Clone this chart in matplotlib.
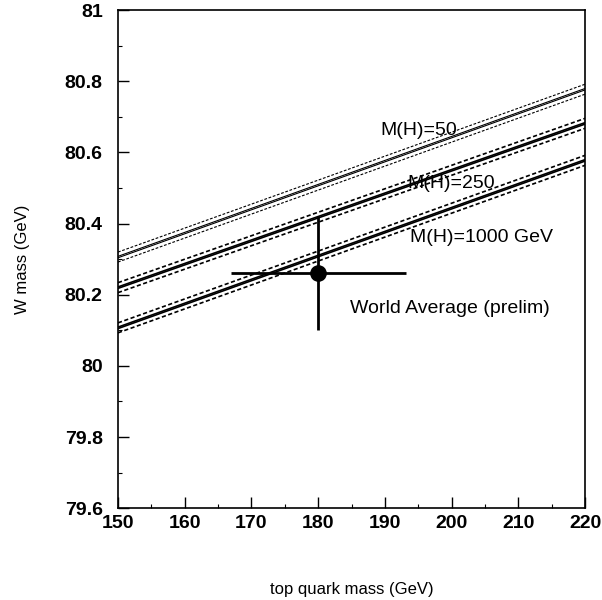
import numpy as np
import matplotlib
matplotlib.use("Agg")
import matplotlib.pyplot as plt
from matplotlib.ticker import MultipleLocator

plt.rcParams['font.family'] = ['Liberation Sans', 'DejaVu Sans']

# top quark mass (GeV) at which the bands were read
mt = [150, 220]
# central W mass for each Higgs mass band
mw_h50 = [80.306, 80.778]
mw_h250 = [80.220, 80.682]
mw_h1000 = [80.107, 80.578]
bands = [mw_h50, mw_h250, mw_h1000]
band_lw = [0.8, 1.2, 1.2]
band_labels = ['M(H)=50', 'M(H)=250', 'M(H)=1000 GeV']
label_pos = [(189.3, 80.649), (193.3, 80.499), (193.8, 80.349)]

# world average (prelim)
wa_mt, wa_mt_err = 180.0, 13.1
wa_mw, wa_mw_err = 80.262, 0.16

y_ticks = [79.6, 79.8, 80.0, 80.2, 80.4, 80.6, 80.8, 81.0]
y_ticklabels = ['79.6', '79.8', '80', '80.2', '80.4', '80.6', '80.8', '81']

fig = plt.figure(figsize=(6.02, 6.0), dpi=100)
ax = fig.add_axes([0.196, 0.153, 0.776, 0.830])

# each band: two solid central lines, dashed edges
for vals, lw in zip(bands, band_lw):
    v = np.array(vals)
    ax.plot(mt, v + 0.002, color='black', lw=lw)
    ax.plot(mt, v - 0.002, color='black', lw=lw)
    ax.plot(mt, v + 0.014, color='black', lw=lw, ls=(0, (2.5, 1.5)))
    ax.plot(mt, v - 0.014, color='black', lw=lw, ls=(0, (2.5, 1.5)))

for lab, (x, y) in zip(band_labels, label_pos):
    ax.text(x, y, lab, fontsize=14, va='baseline', ha='left')

ax.errorbar([wa_mt], [wa_mw], xerr=[wa_mt_err], yerr=[wa_mw_err],
            fmt='o', color='black', ms=11, elinewidth=2, capsize=0)
ax.text(184.8, 80.148, 'World Average (prelim)', fontsize=14,
        va='baseline', ha='left')

ax.set_xlim(150, 220)
ax.xaxis.set_major_locator(MultipleLocator(10))
ax.xaxis.set_minor_locator(MultipleLocator(5))
ax.set_yticks(y_ticks)
ax.set_yticklabels(y_ticklabels)
ax.yaxis.set_minor_locator(MultipleLocator(0.1))
ax.set_ylim(79.6, 81.0)

ax.tick_params(which='major', direction='in', length=8, width=1,
               labelsize=14, top=False, right=False)
ax.tick_params(axis='y', which='major', pad=11)
ax.tick_params(axis='x', which='major', pad=5)
ax.tick_params(which='minor', direction='in', length=3, width=0.8,
               top=False, right=False)
for lab in ax.get_xticklabels() + ax.get_yticklabels():
    lab.set_fontweight('bold')
for s in ax.spines.values():
    s.set_linewidth(1.2)

ax.set_xlabel('top quark mass (GeV)', fontsize=12, labelpad=36)
ax.set_ylabel('W mass (GeV)', fontsize=12, labelpad=25)

fig.savefig('out.png', dpi=100)
